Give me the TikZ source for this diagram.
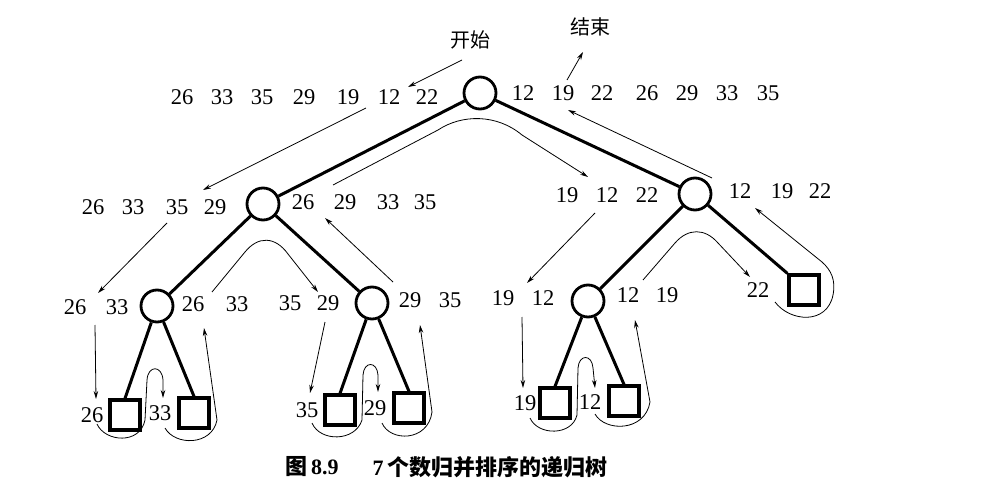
\documentclass[tikz,border=0pt]{standalone}
\usepackage{fontspec}
\setmainfont{Liberation Serif}
\newfontfamily\cjk{Noto Sans CJK SC}
\usetikzlibrary{arrows.meta}
\tikzset{
  num/.style={inner sep=0pt, font=\fontsize{22.5}{22.5}\selectfont},
  circ/.style={circle, draw, line width=2.8pt, minimum size=32pt, inner sep=0pt},
  sq/.style={rectangle, draw, line width=3.2pt, minimum size=30pt, inner sep=0pt},
  edge/.style={line width=3pt},
  trace/.style={line width=0.8pt, -{Stealth[length=8pt,width=4.5pt]}},
  captext/.style={inner sep=0pt, font=\fontsize{22}{22}\selectfont\bfseries},
}
\begin{document}
\begin{tikzpicture}[x=1pt,y=-1pt]
\useasboundingbox (0,0) rectangle (985,492);
% tree nodes
\node[circ] (root) at (480,93) {};
\node[circ] (L) at (263,204) {};
\node[circ] (R) at (695,194) {};
\node[circ] (LL) at (157,306) {};
\node[circ] (LR) at (372,303) {};
\node[circ] (RL) at (588,301) {};
\node[sq] (RR) at (804,290) {};
\node[sq] (la) at (125,415) {};
\node[sq] (lb) at (194,413) {};
\node[sq] (lc) at (340,410) {};
\node[sq] (ld) at (409,408) {};
\node[sq] (le) at (555,403) {};
\node[sq] (lf) at (624,401) {};
% tree edges
\draw[edge] (root) -- (L);
\draw[edge] (root) -- (R);
\draw[edge] (L) -- (LL);
\draw[edge] (L) -- (LR);
\draw[edge] (R) -- (RL);
\draw[edge] (R) -- (RR.north west);
\draw[edge] (LL) -- (la.north);
\draw[edge] (LL) -- (lb.north);
\draw[edge] (LR) -- (lc.north);
\draw[edge] (LR) -- (ld.north);
\draw[edge] (RL) -- (le.north);
\draw[edge] (RL) -- (lf.north);
% number labels
\foreach \n/\x [count=\i] in {26/182,33/222,35/262,29/304,19/348,12/389,22/427}
  \node[num] (ga\i) at (\x,97) {\n};
\foreach \n/\x [count=\i] in {12/523,19/563,22/602,26/647,29/687,33/727,35/768}
  \node[num] (gb\i) at (\x,93) {\n};
\foreach \n/\x [count=\i] in {26/93,33/133,35/177,29/215}
  \node[num] (gc\i) at (\x,207) {\n};
\foreach \n/\x [count=\i] in {26/303,29/345,33/388,35/425}
  \node[num] (gd\i) at (\x,202) {\n};
\foreach \n/\x [count=\i] in {19/567,12/607,22/647}
  \node[num] (ge\i) at (\x,195) {\n};
\foreach \n/\x [count=\i] in {12/740,19/782,22/820}
  \node[num] (gf\i) at (\x,191) {\n};
\foreach \n/\x [count=\i] in {26/75,33/117}
  \node[num] (gg\i) at (\x,307) {\n};
\foreach \n/\x [count=\i] in {26/193,33/237}
  \node[num] (gh\i) at (\x,304) {\n};
\foreach \n/\x [count=\i] in {35/290,29/328}
  \node[num] (gi\i) at (\x,303) {\n};
\foreach \n/\x [count=\i] in {29/410,35/450}
  \node[num] (gj\i) at (\x,300) {\n};
\foreach \n/\x [count=\i] in {19/503,12/543}
  \node[num] (gk\i) at (\x,298) {\n};
\foreach \n/\x [count=\i] in {12/628,19/667}
  \node[num] (gl\i) at (\x,295) {\n};
\node[num] (gm) at (758,290) {22};
\node[num] (na) at (92,415) {26};
\node[num] (nb) at (160,413) {33};
\node[num] (nc) at (307,410) {35};
\node[num] (nd) at (375,408) {29};
\node[num] (ne) at (525,403) {19};
\node[num] (nf) at (590,402) {12};
% start / end
\node[inner sep=0pt, font=\cjk\fontsize{20}{20}\selectfont] (start) at (470,40) {开始};
\node[inner sep=0pt, font=\cjk\fontsize{20}{20}\selectfont] (finish) at (590,27) {结束};
\coordinate (s0) at (462,60); \coordinate (s1) at (408,87);
\draw[trace] (s0) -- (s1);
\coordinate (e0) at (567,80); \coordinate (e1) at (583,52);
\draw[trace] (e0) -- (e1);
% level 1 traces
\coordinate (p3a) at (366,108); \coordinate (p3b) at (203,190);
\draw[trace] (p3a) -- (p3b);
\coordinate (p4a) at (333,185); \coordinate (p4b) at (588,177);
\draw[trace] (p4a) -- (438,130) .. controls (462,114) and (497,114) .. (522,135) -- (p4b);
\coordinate (p5a) at (712,178); \coordinate (p5b) at (568,110);
\draw[trace] (p5a) -- (p5b);
% level 2 traces (left)
\coordinate (p6a) at (167,223); \coordinate (p6b) at (98,293);
\draw[trace] (p6a) -- (p6b);
\coordinate (p7a) at (212,292); \coordinate (p7b) at (318,292);
\draw[trace] (p7a) -- (245,252) .. controls (258,236) and (275,236) .. (288,254) -- (p7b);
\coordinate (p8a) at (393,282); \coordinate (p8b) at (325,218);
\draw[trace] (p8a) -- (p8b);
% level 2 traces (right)
\coordinate (p9a) at (595,213); \coordinate (p9b) at (527,283);
\draw[trace] (p9a) -- (p9b);
\coordinate (p10a) at (643,280); \coordinate (p10b) at (750,277);
\draw[trace] (p10a) -- (675,243) .. controls (688,228) and (705,228) .. (718,243) -- (p10b);
\coordinate (p11a) at (775,302); \coordinate (p11b) at (755,208);
\draw[trace] (p11a) .. controls (790,322) and (827,325) .. (833,295) .. controls (836,280) and (831,270) .. (822,262) -- (p11b);
% leaf traces, left-left
\coordinate (p12a) at (95,325); \coordinate (p12b) at (96,399);
\draw[trace] (p12a) -- (p12b);
\coordinate (p13a) at (97,424); \coordinate (p13b) at (163,398);
\draw[trace] (p13a) .. controls (105,442) and (140,445) .. (145,420) -- (147,380) .. controls (148,365) and (162,365) .. (163,380) -- (p13b);
\coordinate (p14a) at (165,428); \coordinate (p14b) at (204,328);
\draw[trace] (p14a) .. controls (175,446) and (212,446) .. (217,420) -- (p14b);
% leaf traces, left-right
\coordinate (p15a) at (325,322); \coordinate (p15b) at (310,393);
\draw[trace] (p15a) -- (p15b);
\coordinate (p16a) at (312,423); \coordinate (p16b) at (378,392);
\draw[trace] (p16a) .. controls (320,442) and (355,442) .. (362,420) -- (363,375) .. controls (364,361) and (377,361) .. (378,375) -- (p16b);
\coordinate (p17a) at (382,423); \coordinate (p17b) at (420,325);
\draw[trace] (p17a) .. controls (390,442) and (428,442) .. (432,412) -- (p17b);
% leaf traces, right-left
\coordinate (p18a) at (522,317); \coordinate (p18b) at (523,388);
\draw[trace] (p18a) -- (p18b);
\coordinate (p19a) at (530,418); \coordinate (p19b) at (595,388);
\draw[trace] (p19a) .. controls (538,436) and (572,436) .. (577,415) -- (578,368) .. controls (579,354) and (592,354) .. (593,368) -- (p19b);
\coordinate (p20a) at (595,414); \coordinate (p20b) at (635,320);
\draw[trace] (p20a) .. controls (605,432) and (645,432) .. (650,402) -- (p20b);
% caption
\node[captext] (cap1) at (312,467) {{\cjk 图}\,8.9};
\node[captext] (cap2) at (490,467) {7\,{\cjk 个数归并排序的递归树}};
\end{tikzpicture}
\end{document}
